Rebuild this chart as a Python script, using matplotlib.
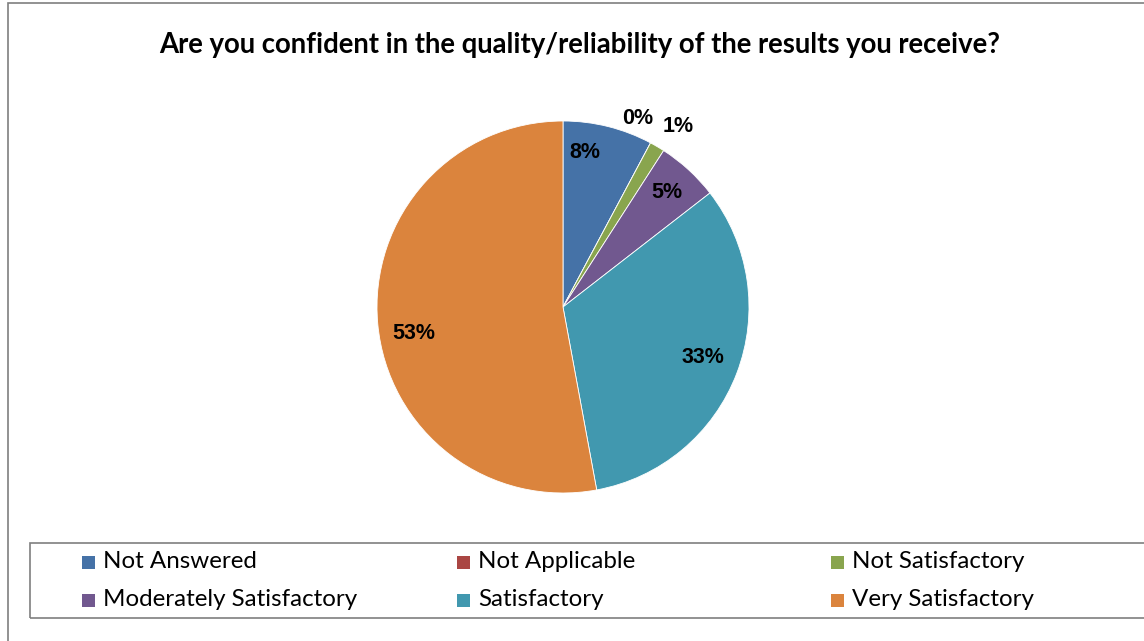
import matplotlib.pyplot as plt
from matplotlib.patches import Rectangle

categories = ["Not Answered", "Not Applicable", "Not Satisfactory",
              "Moderately Satisfactory", "Satisfactory", "Very Satisfactory"]
shares = [7.8, 0.0, 1.3, 5.4, 32.6, 52.9]
pct_labels = ["8%", "0%", "1%", "5%", "33%", "53%"]
colors = ["#4572A7", "#AA4643", "#89A54E", "#71588F", "#4198AF", "#DB843D"]

# label anchor points in pie units (radius = 1)
label_pos = [(0.118, 0.828), (0.403, 1.016), (0.618, 0.968),
             (0.559, 0.613), (0.753, -0.269), (-0.801, -0.140)]

W, H = 1144, 641
fig = plt.figure(figsize=(W / 100, H / 100), dpi=100)

# outer chart frame (runs past the right and bottom edges)
top = 1 - 3 / H
fig.patches.append(Rectangle((8 / W, -0.2), 1.2, top + 0.2,
                             transform=fig.transFigure, fill=False,
                             edgecolor="#7f7f7f", linewidth=1.2, clip_on=False))

fig.text(580 / W, 1 - 45 / H,
         "Are you confident in the quality/reliability of the results you receive?",
         ha="center", va="center", fontsize=19.8, fontweight="bold",
         family="Lato", color="black")

cx, cy, r = 563, 307, 186
ax = fig.add_axes([(cx - r) / W, 1 - (cy + r) / H, 2 * r / W, 2 * r / H])
ax.pie(shares, colors=colors, startangle=90, counterclock=False, radius=1,
       wedgeprops=dict(edgecolor="white", linewidth=0.6))
ax.set_xlim(-1, 1)
ax.set_ylim(-1, 1)
ax.set_aspect("equal")
ax.axis("off")

for txt, (x, y) in zip(pct_labels, label_pos):
    ax.text(x, y, txt, ha="center", va="center", fontsize=15.5,
            fontweight="bold", family="Liberation Sans", clip_on=False)

# legend box
fig.patches.append(Rectangle((30 / W, 1 - 618 / H), 1.2, 75 / H,
                             transform=fig.transFigure, fill=False,
                             edgecolor="#7f7f7f", linewidth=1.2, clip_on=False))
col_x = [82, 457, 831]
row_y = [562, 600]
for i, (name, col) in enumerate(zip(categories, colors)):
    x = col_x[i % 3]
    y = row_y[i // 3]
    fig.patches.append(Rectangle((x / W, 1 - (y + 7) / H), 13 / W, 13 / H,
                                 transform=fig.transFigure, facecolor=col,
                                 edgecolor="none"))
    fig.text((x + 21) / W, 1 - y / H, name, ha="left", va="center",
             fontsize=17.4, family="Lato", color="black")

fig.savefig("out.png", dpi=100)
